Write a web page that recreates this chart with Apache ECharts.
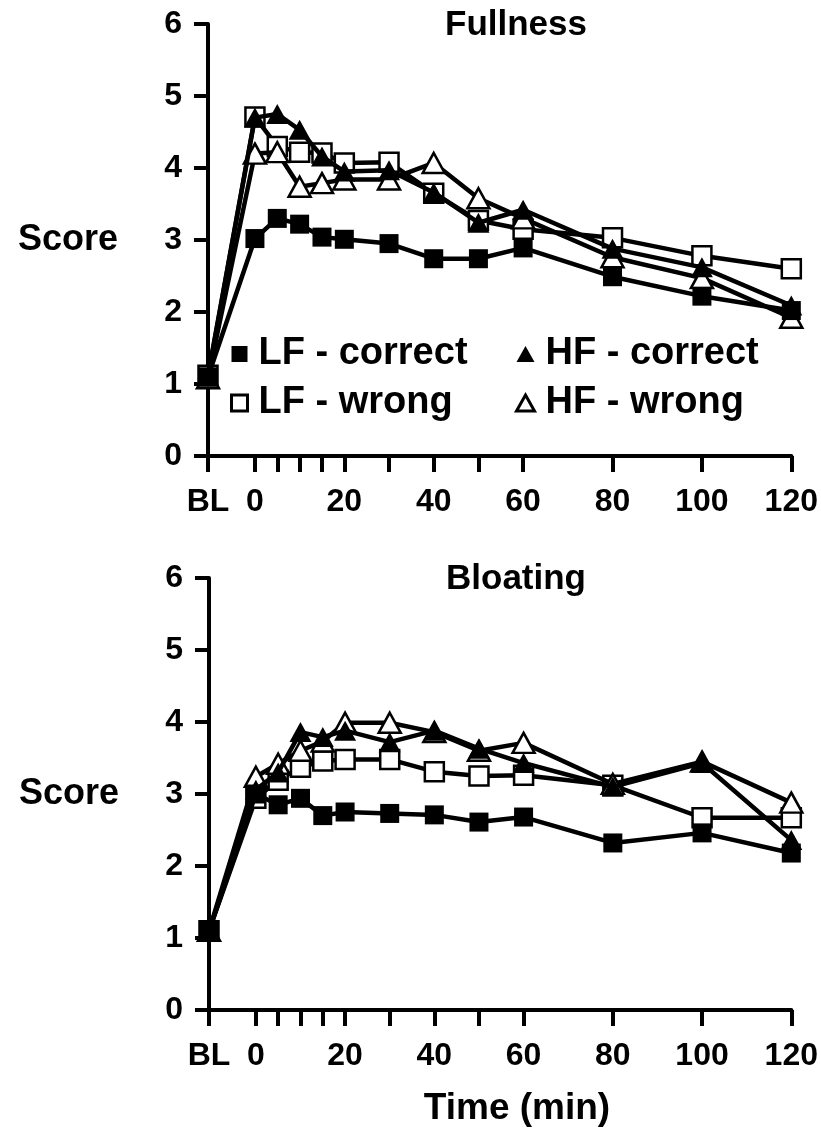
<!DOCTYPE html>
<html>
<head>
<meta charset="utf-8">
<script src="https://cdn.jsdelivr.net/npm/echarts@6/dist/echarts.min.js"></script>
<style>
html,body{margin:0;padding:0;background:#fff;}
#chart{width:821px;height:1135px;}
</style>
</head>
<body>
<div id="chart"></div>
<script>
// ---- data ----
var times = ['BL', 0, 5, 10, 15, 20, 30, 40, 50, 60, 80, 100, 120];
var tickTimes = ['BL', 0, 5, 10, 15, 20, 30, 40, 50, 60, 80, 100, 120];
var labelTimes = ['BL', 0, 20, 40, 60, 80, 100, 120];
var seriesNames = ['LF - correct', 'LF - wrong', 'HF - correct', 'HF - wrong'];
var panelTitles = ['Fullness', 'Bloating'];
var xTitle = 'Time (min)';
var yTitle = 'Score';

var fullnessLFcorrect = [1.10, 3.02, 3.30, 3.22, 3.04, 3.01, 2.95, 2.74, 2.74, 2.89, 2.49, 2.22, 2.02];
var fullnessLFwrong   = [1.12, 4.71, 4.30, 4.22, 4.21, 4.07, 4.08, 3.65, 3.27, 3.15, 3.03, 2.78, 2.60];
var fullnessHFcorrect = [1.10, 4.70, 4.75, 4.53, 4.16, 3.95, 3.97, 3.66, 3.24, 3.42, 2.88, 2.62, 2.09];
var fullnessHFwrong   = [1.08, 4.20, 4.22, 3.74, 3.79, 3.84, 3.84, 4.07, 3.58, 3.30, 2.76, 2.47, 1.92];

var bloatingLFcorrect = [1.10, 3.00, 2.85, 2.94, 2.70, 2.75, 2.73, 2.71, 2.61, 2.68, 2.32, 2.46, 2.18];
var bloatingLFwrong   = [1.10, 2.94, 3.19, 3.37, 3.46, 3.48, 3.48, 3.31, 3.25, 3.26, 3.12, 2.67, 2.67];
var bloatingHFcorrect = [1.10, 3.06, 3.30, 3.86, 3.79, 3.88, 3.72, 3.88, 3.63, 3.43, 3.10, 3.43, 2.36];
var bloatingHFwrong   = [1.10, 3.24, 3.42, 3.60, 3.73, 3.99, 3.99, 3.86, 3.60, 3.71, 3.14, 3.45, 2.88];

// ---- build ----
var BL_POS = -10.5;
function tpos(t){ return t === 'BL' ? BL_POS : t; }
function pairs(vals){ return times.map(function(t,i){ return [tpos(t), vals[i]]; }); }

var FONT = '"Liberation Sans", Arial, sans-serif';
var styles = [
  {symbol:'rect', size:19, fill:'#000', z:6},
  {symbol:'rect', size:19, fill:'#fff', z:3},
  {symbol:'triangle', size:[22,20], fill:'#000', z:5},
  {symbol:'triangle', size:[22,20], fill:'#fff', z:4}
];
var panels = [
  [fullnessLFcorrect, fullnessLFwrong, fullnessHFcorrect, fullnessHFwrong],
  [bloatingLFcorrect, bloatingLFwrong, bloatingHFcorrect, bloatingHFwrong]
];

function xAxisFor(idx){
  return {
    type:'value', gridIndex:idx, min:BL_POS, max:120,
    axisLine:{show:true, onZero:false, lineStyle:{color:'#000', width:4}},
    axisTick:{show:true, inside:false, length:16, lineStyle:{color:'#000', width:4},
      customValues: tickTimes.map(tpos)},
    axisLabel:{show:true, margin:30, color:'#000', fontSize:32, fontWeight:'bold', fontFamily:FONT,
      customValues: labelTimes.map(tpos),
      formatter:function(v){ return v < 0 ? 'BL' : String(v); }},
    splitLine:{show:false}
  };
}
function yAxisFor(idx){
  return {
    type:'value', gridIndex:idx, min:0, max:6, interval:1,
    name:yTitle, nameLocation:'middle', nameRotate:0, nameGap:90,
    nameTextStyle:{color:'#000', fontSize:36, fontWeight:'bold', fontFamily:FONT},
    axisLine:{show:true, onZero:false, lineStyle:{color:'#000', width:4}},
    axisTick:{show:true, inside:false, length:14, lineStyle:{color:'#000', width:4}},
    axisLabel:{show:true, margin:26, color:'#000', fontSize:32, fontWeight:'bold', fontFamily:FONT},
    splitLine:{show:false}
  };
}

var series = [];
panels.forEach(function(p, pi){
  p.forEach(function(vals, si){
    var st = styles[si];
    series.push({
      name: seriesNames[si],
      type:'line',
      xAxisIndex:pi, yAxisIndex:pi,
      data: pairs(vals),
      symbol: st.symbol,
      symbolSize: st.size,
      showAllSymbol:true,
      lineStyle:{color:'#000', width:4.5},
      itemStyle:{color:st.fill, borderColor:'#000', borderWidth: st.fill === '#fff' ? 2.5 : 0, opacity:1},
      z: st.z,
      animation:false
    });
  });
});

function legendItem(i){
  var st = styles[i];
  return {name:seriesNames[i], icon: st.symbol === 'rect' ? 'rect' : 'triangle',
    itemStyle:{color:st.fill, borderColor:'#000', borderWidth: st.fill === '#fff' ? 3 : 0}};
}

var titleStyle = {color:'#000', fontSize:35, fontWeight:'bold', fontFamily:FONT};
var option = {
  backgroundColor:'#fff',
  animation:false,
  title:[
    {text:panelTitles[0], left:516, top:8, textAlign:'center', padding:0, textStyle:titleStyle},
    {text:panelTitles[1], left:516, top:562, textAlign:'center', padding:0, textStyle:titleStyle},
    {text:xTitle, left:517, top:1090, textAlign:'center', padding:0,
      textStyle:{color:'#000', fontSize:37, fontWeight:'bold', fontFamily:FONT}}
  ],
  legend:[
    {data:[legendItem(0), legendItem(1)], orient:'vertical', left:225, top:330, itemGap:11,
      itemWidth:16, itemHeight:16, selectedMode:false,
      textStyle:{color:'#000', fontSize:38, fontWeight:'bold', fontFamily:FONT, padding:[0,0,0,6]}},
    {data:[legendItem(2), legendItem(3)], orient:'vertical', left:510, top:330, itemGap:11,
      itemWidth:18, itemHeight:16, selectedMode:false,
      textStyle:{color:'#000', fontSize:38, fontWeight:'bold', fontFamily:FONT, padding:[0,0,0,6]}}
  ],
  grid:[
    {left:208, right:27, top:24, bottom:679},
    {left:209, right:25, top:578, bottom:125}
  ],
  xAxis:[xAxisFor(0), xAxisFor(1)],
  yAxis:[yAxisFor(0), yAxisFor(1)],
  series:series
};

var chart = echarts.init(document.getElementById('chart'), null, {renderer:'canvas'});
chart.setOption(option);
</script>
</body>
</html>
